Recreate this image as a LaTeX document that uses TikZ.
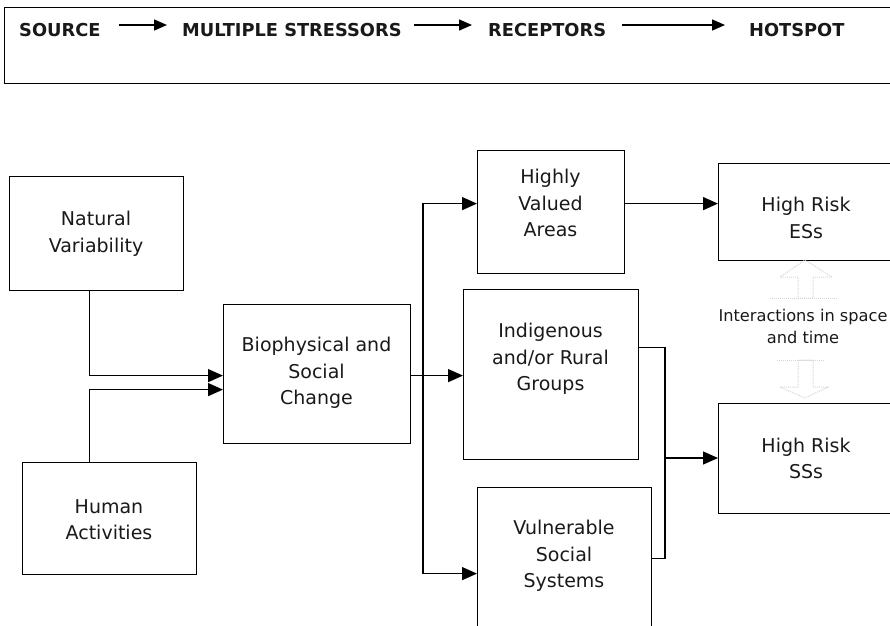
\documentclass[tikz,border=0pt]{standalone}
\usepackage{fontspec}
\setmainfont{DejaVu Sans}
\usetikzlibrary{arrows.meta,calc}
\begin{document}
\begin{tikzpicture}[x=1pt,y=-1pt,
  box/.style={draw, line width=1.2pt, inner sep=0pt, anchor=north west},
  txt/.style={align=center, inner sep=0pt, text=black!90, font=\fontsize{19}{26.5}\selectfont},
  small/.style={align=center, inner sep=0pt, text=black!90, font=\fontsize{16.2}{22}\selectfont},
  hdr/.style={inner sep=0pt, anchor=west, text=black!90, font=\fontsize{17.8}{20}\selectfont\bfseries},
  arr/.style={line width=1.3pt, -{Triangle[length=15pt,width=13pt]}},
  harr/.style={line width=1.5pt, -{Triangle[length=13pt,width=11pt]}},
  link/.style={line width=1.3pt},
  faint/.style={black!16, line width=1pt, densely dotted}]
\useasboundingbox (0,0) rectangle (890,625);
\begin{scope}
\clip (0,0) rectangle (890,625);
% header
\node[box, line width=1.4pt, minimum width=896pt, minimum height=76pt] (hbox) at (4,7) {};
\node[hdr] (src) at (19,30) {SOURCE};
\node[hdr] (ms) at (182,30) {MULTIPLE STRESSORS};
\node[hdr] (rec) at (488,30) {RECEPTORS};
\node[hdr] (hot) at (749,30) {HOTSPOT};
\draw[harr] ([xshift=18pt,yshift=5pt]src.east) -- ([xshift=-15pt,yshift=5pt]ms.west);
\draw[harr] ([xshift=12pt,yshift=5pt]ms.east) -- ([xshift=-16pt,yshift=5pt]rec.west);
\draw[harr] ([xshift=16pt,yshift=5pt]rec.east) -- ([xshift=-24pt,yshift=5pt]hot.west);
% boxes
\node[box, minimum width=174pt, minimum height=114pt] (nv) at (9,176) {};
\node[box, minimum width=174pt, minimum height=112pt] (ha) at (22,462) {};
\node[box, minimum width=187pt, minimum height=139pt] (bio) at (223,304) {};
\node[box, minimum width=147pt, minimum height=123pt] (hva) at (477,150) {};
\node[box, minimum width=175pt, minimum height=170pt] (ig) at (463,289) {};
\node[box, minimum width=174pt, minimum height=153pt] (vss) at (477,487) {};
\node[box, minimum width=176pt, minimum height=97pt] (ess) at (718,163) {};
\node[box, minimum width=176pt, minimum height=110pt] (sss) at (718,403) {};
% texts
\node[txt] (nvt) at (96,233.5) {Natural\\Variability};
\node[txt] (hat) at (109,519.5) {Human\\Activities};
\node[txt] (biot) at (316.5,373) {Biophysical and\\Social\\Change};
\node[txt] (hvat) at (550.5,203) {Highly\\Valued\\Areas};
\node[txt] (igt) at (550.5,359) {Indigenous\\and/or Rural\\Groups};
\node[txt] (vsst) at (564,556) {Vulnerable\\Social\\Systems};
\node[txt] (esst) at (806,218) {High Risk\\ESs};
\node[txt] (ssst) at (806,458.5) {High Risk\\SSs};
\node[small] (int) at (803,326) {Interactions in space\\and time};
% connectors
\draw[arr] ([xshift=-7pt]nv.south) |- ([yshift=-1.5pt]bio.west);
\draw[arr] ([xshift=-20pt]ha.north) |- ([yshift=-15.5pt]bio.west);
\coordinate (sp) at (423,375);
\draw[arr] ([yshift=-1.5pt]bio.east) -- ([yshift=-1.5pt]bio.east -| ig.west);
\draw[arr] (sp) |- ([yshift=8.5pt]hva.west);
\draw[arr] (sp) |- ([yshift=-9.5pt]vss.west);
\draw[arr] ([yshift=8.5pt]hva.east) -- ([yshift=8.5pt]hva.east -| ess.west);
\coordinate (mj) at (665,458);
\draw[link] ([yshift=27pt]ig.east) -| (mj) |- ([yshift=5.5pt]vss.east);
\draw[arr] (mj) -- (mj -| sss.west);
% faint interaction arrows
\draw[faint] (805,260) -- (832,277) -- (813,277) -- (813,298) -- (798,298) -- (798,277) -- (780,277) -- cycle;
\draw[faint] (770,298) -- (838,298);
\draw[faint] (777,360) -- (825,360);
\draw[faint] (798,360) -- (813,360) -- (813,387) -- (828,387) -- (805,398) -- (780,387) -- (798,387) -- cycle;
\end{scope}
\end{tikzpicture}
\end{document}
